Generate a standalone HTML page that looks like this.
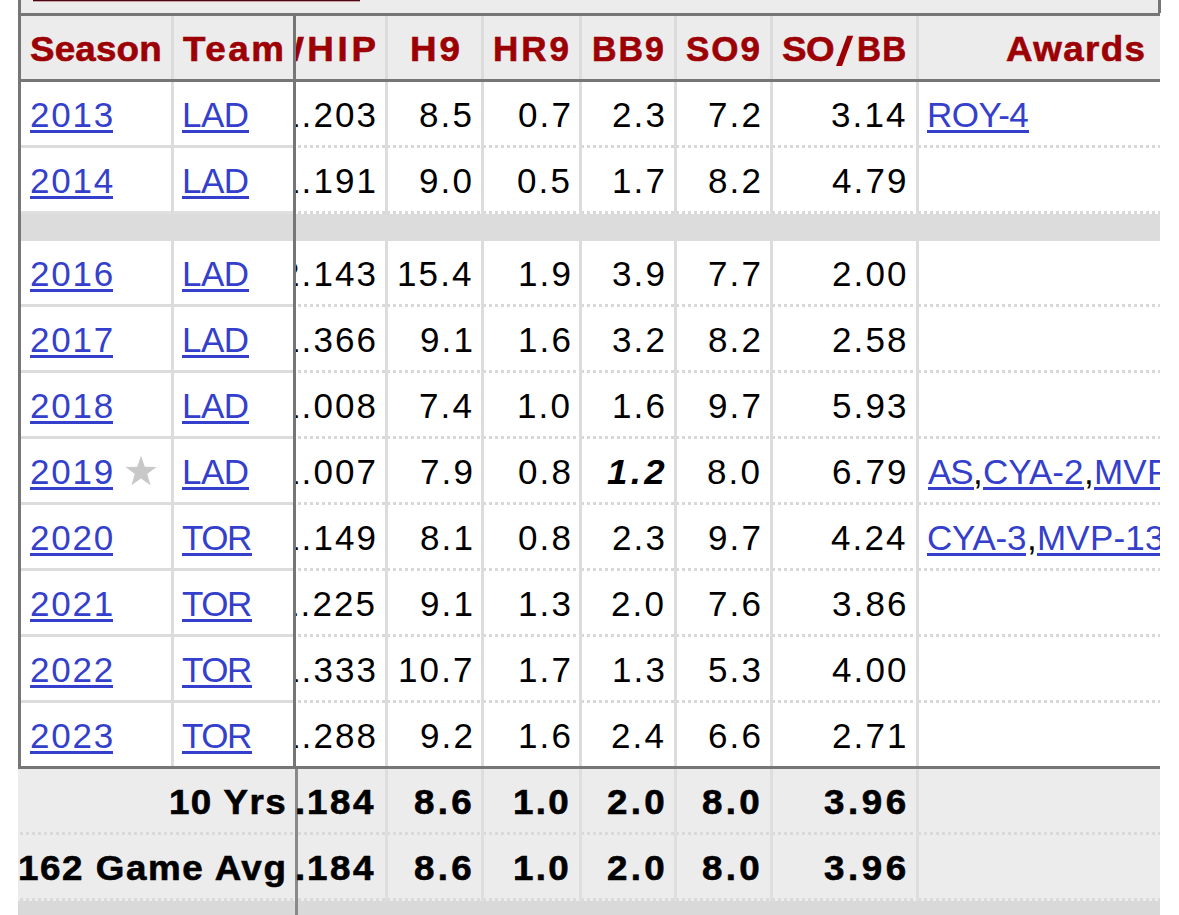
<!DOCTYPE html><html><head><meta charset="utf-8"><style>
html,body{margin:0;padding:0;background:#fff;width:1179px;height:915px;overflow:hidden;position:relative;font-family:'Liberation Sans', sans-serif;}
.a{position:absolute;}
.t{position:absolute;white-space:nowrap;font-size:35px;line-height:35px;}
</style></head><body>
<div class="a" style="left:18px;top:0px;width:1142px;height:16px;background:#ececec;"></div>
<div class="a" style="left:33px;top:0px;width:327px;height:1px;background:#4a0612;"></div>
<div class="a" style="left:33px;top:1px;width:327px;height:1px;background:#c9a0a6;"></div>
<div class="a" style="left:18px;top:13px;width:1142px;height:3px;background:#767676;"></div>
<div class="a" style="left:1158px;top:0px;width:3px;height:13px;background:#767676;"></div>
<div class="a" style="left:18px;top:16px;width:1142px;height:63px;background:#ececec;"></div>
<div class="a" style="left:18px;top:214px;width:1142px;height:27px;background:#dcdcdc;"></div>
<div class="a" style="left:18px;top:769px;width:1142px;height:132px;background:#ececec;"></div>
<div class="a" style="left:18px;top:901px;width:1142px;height:14px;background:#d9d9d9;"></div>
<div class="a" style="left:18px;top:145px;width:278px;height:3px;background:#dcdcdc;"></div>
<div class="a" style="left:296px;top:145px;width:89px;height:3px;background:repeating-linear-gradient(90deg,transparent 0 2px,#d8d8d8 2px 5px,transparent 5px 6px);"></div>
<div class="a" style="left:385px;top:145px;width:96px;height:3px;background:repeating-linear-gradient(90deg,transparent 0 2px,#d8d8d8 2px 5px,transparent 5px 6px);"></div>
<div class="a" style="left:481px;top:145px;width:98px;height:3px;background:repeating-linear-gradient(90deg,transparent 0 2px,#d8d8d8 2px 5px,transparent 5px 6px);"></div>
<div class="a" style="left:579px;top:145px;width:95px;height:3px;background:repeating-linear-gradient(90deg,transparent 0 2px,#d8d8d8 2px 5px,transparent 5px 6px);"></div>
<div class="a" style="left:674px;top:145px;width:96px;height:3px;background:repeating-linear-gradient(90deg,transparent 0 2px,#d8d8d8 2px 5px,transparent 5px 6px);"></div>
<div class="a" style="left:770px;top:145px;width:146px;height:3px;background:repeating-linear-gradient(90deg,transparent 0 2px,#d8d8d8 2px 5px,transparent 5px 6px);"></div>
<div class="a" style="left:916px;top:145px;width:244px;height:3px;background:repeating-linear-gradient(90deg,transparent 0 2px,#d8d8d8 2px 5px,transparent 5px 6px);"></div>
<div class="a" style="left:18px;top:304px;width:278px;height:3px;background:#dcdcdc;"></div>
<div class="a" style="left:296px;top:304px;width:89px;height:3px;background:repeating-linear-gradient(90deg,transparent 0 2px,#d8d8d8 2px 5px,transparent 5px 6px);"></div>
<div class="a" style="left:385px;top:304px;width:96px;height:3px;background:repeating-linear-gradient(90deg,transparent 0 2px,#d8d8d8 2px 5px,transparent 5px 6px);"></div>
<div class="a" style="left:481px;top:304px;width:98px;height:3px;background:repeating-linear-gradient(90deg,transparent 0 2px,#d8d8d8 2px 5px,transparent 5px 6px);"></div>
<div class="a" style="left:579px;top:304px;width:95px;height:3px;background:repeating-linear-gradient(90deg,transparent 0 2px,#d8d8d8 2px 5px,transparent 5px 6px);"></div>
<div class="a" style="left:674px;top:304px;width:96px;height:3px;background:repeating-linear-gradient(90deg,transparent 0 2px,#d8d8d8 2px 5px,transparent 5px 6px);"></div>
<div class="a" style="left:770px;top:304px;width:146px;height:3px;background:repeating-linear-gradient(90deg,transparent 0 2px,#d8d8d8 2px 5px,transparent 5px 6px);"></div>
<div class="a" style="left:916px;top:304px;width:244px;height:3px;background:repeating-linear-gradient(90deg,transparent 0 2px,#d8d8d8 2px 5px,transparent 5px 6px);"></div>
<div class="a" style="left:18px;top:370px;width:278px;height:3px;background:#dcdcdc;"></div>
<div class="a" style="left:296px;top:370px;width:89px;height:3px;background:repeating-linear-gradient(90deg,transparent 0 2px,#d8d8d8 2px 5px,transparent 5px 6px);"></div>
<div class="a" style="left:385px;top:370px;width:96px;height:3px;background:repeating-linear-gradient(90deg,transparent 0 2px,#d8d8d8 2px 5px,transparent 5px 6px);"></div>
<div class="a" style="left:481px;top:370px;width:98px;height:3px;background:repeating-linear-gradient(90deg,transparent 0 2px,#d8d8d8 2px 5px,transparent 5px 6px);"></div>
<div class="a" style="left:579px;top:370px;width:95px;height:3px;background:repeating-linear-gradient(90deg,transparent 0 2px,#d8d8d8 2px 5px,transparent 5px 6px);"></div>
<div class="a" style="left:674px;top:370px;width:96px;height:3px;background:repeating-linear-gradient(90deg,transparent 0 2px,#d8d8d8 2px 5px,transparent 5px 6px);"></div>
<div class="a" style="left:770px;top:370px;width:146px;height:3px;background:repeating-linear-gradient(90deg,transparent 0 2px,#d8d8d8 2px 5px,transparent 5px 6px);"></div>
<div class="a" style="left:916px;top:370px;width:244px;height:3px;background:repeating-linear-gradient(90deg,transparent 0 2px,#d8d8d8 2px 5px,transparent 5px 6px);"></div>
<div class="a" style="left:18px;top:436px;width:278px;height:3px;background:#dcdcdc;"></div>
<div class="a" style="left:296px;top:436px;width:89px;height:3px;background:repeating-linear-gradient(90deg,transparent 0 2px,#d8d8d8 2px 5px,transparent 5px 6px);"></div>
<div class="a" style="left:385px;top:436px;width:96px;height:3px;background:repeating-linear-gradient(90deg,transparent 0 2px,#d8d8d8 2px 5px,transparent 5px 6px);"></div>
<div class="a" style="left:481px;top:436px;width:98px;height:3px;background:repeating-linear-gradient(90deg,transparent 0 2px,#d8d8d8 2px 5px,transparent 5px 6px);"></div>
<div class="a" style="left:579px;top:436px;width:95px;height:3px;background:repeating-linear-gradient(90deg,transparent 0 2px,#d8d8d8 2px 5px,transparent 5px 6px);"></div>
<div class="a" style="left:674px;top:436px;width:96px;height:3px;background:repeating-linear-gradient(90deg,transparent 0 2px,#d8d8d8 2px 5px,transparent 5px 6px);"></div>
<div class="a" style="left:770px;top:436px;width:146px;height:3px;background:repeating-linear-gradient(90deg,transparent 0 2px,#d8d8d8 2px 5px,transparent 5px 6px);"></div>
<div class="a" style="left:916px;top:436px;width:244px;height:3px;background:repeating-linear-gradient(90deg,transparent 0 2px,#d8d8d8 2px 5px,transparent 5px 6px);"></div>
<div class="a" style="left:18px;top:502px;width:278px;height:3px;background:#dcdcdc;"></div>
<div class="a" style="left:296px;top:502px;width:89px;height:3px;background:repeating-linear-gradient(90deg,transparent 0 2px,#d8d8d8 2px 5px,transparent 5px 6px);"></div>
<div class="a" style="left:385px;top:502px;width:96px;height:3px;background:repeating-linear-gradient(90deg,transparent 0 2px,#d8d8d8 2px 5px,transparent 5px 6px);"></div>
<div class="a" style="left:481px;top:502px;width:98px;height:3px;background:repeating-linear-gradient(90deg,transparent 0 2px,#d8d8d8 2px 5px,transparent 5px 6px);"></div>
<div class="a" style="left:579px;top:502px;width:95px;height:3px;background:repeating-linear-gradient(90deg,transparent 0 2px,#d8d8d8 2px 5px,transparent 5px 6px);"></div>
<div class="a" style="left:674px;top:502px;width:96px;height:3px;background:repeating-linear-gradient(90deg,transparent 0 2px,#d8d8d8 2px 5px,transparent 5px 6px);"></div>
<div class="a" style="left:770px;top:502px;width:146px;height:3px;background:repeating-linear-gradient(90deg,transparent 0 2px,#d8d8d8 2px 5px,transparent 5px 6px);"></div>
<div class="a" style="left:916px;top:502px;width:244px;height:3px;background:repeating-linear-gradient(90deg,transparent 0 2px,#d8d8d8 2px 5px,transparent 5px 6px);"></div>
<div class="a" style="left:18px;top:568px;width:278px;height:3px;background:#dcdcdc;"></div>
<div class="a" style="left:296px;top:568px;width:89px;height:3px;background:repeating-linear-gradient(90deg,transparent 0 2px,#d8d8d8 2px 5px,transparent 5px 6px);"></div>
<div class="a" style="left:385px;top:568px;width:96px;height:3px;background:repeating-linear-gradient(90deg,transparent 0 2px,#d8d8d8 2px 5px,transparent 5px 6px);"></div>
<div class="a" style="left:481px;top:568px;width:98px;height:3px;background:repeating-linear-gradient(90deg,transparent 0 2px,#d8d8d8 2px 5px,transparent 5px 6px);"></div>
<div class="a" style="left:579px;top:568px;width:95px;height:3px;background:repeating-linear-gradient(90deg,transparent 0 2px,#d8d8d8 2px 5px,transparent 5px 6px);"></div>
<div class="a" style="left:674px;top:568px;width:96px;height:3px;background:repeating-linear-gradient(90deg,transparent 0 2px,#d8d8d8 2px 5px,transparent 5px 6px);"></div>
<div class="a" style="left:770px;top:568px;width:146px;height:3px;background:repeating-linear-gradient(90deg,transparent 0 2px,#d8d8d8 2px 5px,transparent 5px 6px);"></div>
<div class="a" style="left:916px;top:568px;width:244px;height:3px;background:repeating-linear-gradient(90deg,transparent 0 2px,#d8d8d8 2px 5px,transparent 5px 6px);"></div>
<div class="a" style="left:18px;top:634px;width:278px;height:3px;background:#dcdcdc;"></div>
<div class="a" style="left:296px;top:634px;width:89px;height:3px;background:repeating-linear-gradient(90deg,transparent 0 2px,#d8d8d8 2px 5px,transparent 5px 6px);"></div>
<div class="a" style="left:385px;top:634px;width:96px;height:3px;background:repeating-linear-gradient(90deg,transparent 0 2px,#d8d8d8 2px 5px,transparent 5px 6px);"></div>
<div class="a" style="left:481px;top:634px;width:98px;height:3px;background:repeating-linear-gradient(90deg,transparent 0 2px,#d8d8d8 2px 5px,transparent 5px 6px);"></div>
<div class="a" style="left:579px;top:634px;width:95px;height:3px;background:repeating-linear-gradient(90deg,transparent 0 2px,#d8d8d8 2px 5px,transparent 5px 6px);"></div>
<div class="a" style="left:674px;top:634px;width:96px;height:3px;background:repeating-linear-gradient(90deg,transparent 0 2px,#d8d8d8 2px 5px,transparent 5px 6px);"></div>
<div class="a" style="left:770px;top:634px;width:146px;height:3px;background:repeating-linear-gradient(90deg,transparent 0 2px,#d8d8d8 2px 5px,transparent 5px 6px);"></div>
<div class="a" style="left:916px;top:634px;width:244px;height:3px;background:repeating-linear-gradient(90deg,transparent 0 2px,#d8d8d8 2px 5px,transparent 5px 6px);"></div>
<div class="a" style="left:18px;top:700px;width:278px;height:3px;background:#dcdcdc;"></div>
<div class="a" style="left:296px;top:700px;width:89px;height:3px;background:repeating-linear-gradient(90deg,transparent 0 2px,#d8d8d8 2px 5px,transparent 5px 6px);"></div>
<div class="a" style="left:385px;top:700px;width:96px;height:3px;background:repeating-linear-gradient(90deg,transparent 0 2px,#d8d8d8 2px 5px,transparent 5px 6px);"></div>
<div class="a" style="left:481px;top:700px;width:98px;height:3px;background:repeating-linear-gradient(90deg,transparent 0 2px,#d8d8d8 2px 5px,transparent 5px 6px);"></div>
<div class="a" style="left:579px;top:700px;width:95px;height:3px;background:repeating-linear-gradient(90deg,transparent 0 2px,#d8d8d8 2px 5px,transparent 5px 6px);"></div>
<div class="a" style="left:674px;top:700px;width:96px;height:3px;background:repeating-linear-gradient(90deg,transparent 0 2px,#d8d8d8 2px 5px,transparent 5px 6px);"></div>
<div class="a" style="left:770px;top:700px;width:146px;height:3px;background:repeating-linear-gradient(90deg,transparent 0 2px,#d8d8d8 2px 5px,transparent 5px 6px);"></div>
<div class="a" style="left:916px;top:700px;width:244px;height:3px;background:repeating-linear-gradient(90deg,transparent 0 2px,#d8d8d8 2px 5px,transparent 5px 6px);"></div>
<div class="a" style="left:18px;top:211px;width:278px;height:3px;background:#e0e0e0;"></div>
<div class="a" style="left:296px;top:211px;width:89px;height:3px;background:repeating-linear-gradient(90deg,transparent 0 2px,#d8d8d8 2px 5px,transparent 5px 6px);"></div>
<div class="a" style="left:385px;top:211px;width:96px;height:3px;background:repeating-linear-gradient(90deg,transparent 0 2px,#d8d8d8 2px 5px,transparent 5px 6px);"></div>
<div class="a" style="left:481px;top:211px;width:98px;height:3px;background:repeating-linear-gradient(90deg,transparent 0 2px,#d8d8d8 2px 5px,transparent 5px 6px);"></div>
<div class="a" style="left:579px;top:211px;width:95px;height:3px;background:repeating-linear-gradient(90deg,transparent 0 2px,#d8d8d8 2px 5px,transparent 5px 6px);"></div>
<div class="a" style="left:674px;top:211px;width:96px;height:3px;background:repeating-linear-gradient(90deg,transparent 0 2px,#d8d8d8 2px 5px,transparent 5px 6px);"></div>
<div class="a" style="left:770px;top:211px;width:146px;height:3px;background:repeating-linear-gradient(90deg,transparent 0 2px,#d8d8d8 2px 5px,transparent 5px 6px);"></div>
<div class="a" style="left:916px;top:211px;width:244px;height:3px;background:repeating-linear-gradient(90deg,transparent 0 2px,#d8d8d8 2px 5px,transparent 5px 6px);"></div>
<div class="a" style="left:18px;top:832px;width:278px;height:3px;background:repeating-linear-gradient(90deg,transparent 0 2px,#dadada 2px 5px,transparent 5px 6px);"></div>
<div class="a" style="left:296px;top:832px;width:89px;height:3px;background:repeating-linear-gradient(90deg,transparent 0 2px,#dadada 2px 5px,transparent 5px 6px);"></div>
<div class="a" style="left:385px;top:832px;width:96px;height:3px;background:repeating-linear-gradient(90deg,transparent 0 2px,#dadada 2px 5px,transparent 5px 6px);"></div>
<div class="a" style="left:481px;top:832px;width:98px;height:3px;background:repeating-linear-gradient(90deg,transparent 0 2px,#dadada 2px 5px,transparent 5px 6px);"></div>
<div class="a" style="left:579px;top:832px;width:95px;height:3px;background:repeating-linear-gradient(90deg,transparent 0 2px,#dadada 2px 5px,transparent 5px 6px);"></div>
<div class="a" style="left:674px;top:832px;width:96px;height:3px;background:repeating-linear-gradient(90deg,transparent 0 2px,#dadada 2px 5px,transparent 5px 6px);"></div>
<div class="a" style="left:770px;top:832px;width:146px;height:3px;background:repeating-linear-gradient(90deg,transparent 0 2px,#dadada 2px 5px,transparent 5px 6px);"></div>
<div class="a" style="left:916px;top:832px;width:244px;height:3px;background:repeating-linear-gradient(90deg,transparent 0 2px,#dadada 2px 5px,transparent 5px 6px);"></div>
<div class="a" style="left:18px;top:898px;width:278px;height:3px;background:repeating-linear-gradient(90deg,transparent 0 2px,#dadada 2px 5px,transparent 5px 6px);"></div>
<div class="a" style="left:296px;top:898px;width:89px;height:3px;background:repeating-linear-gradient(90deg,transparent 0 2px,#dadada 2px 5px,transparent 5px 6px);"></div>
<div class="a" style="left:385px;top:898px;width:96px;height:3px;background:repeating-linear-gradient(90deg,transparent 0 2px,#dadada 2px 5px,transparent 5px 6px);"></div>
<div class="a" style="left:481px;top:898px;width:98px;height:3px;background:repeating-linear-gradient(90deg,transparent 0 2px,#dadada 2px 5px,transparent 5px 6px);"></div>
<div class="a" style="left:579px;top:898px;width:95px;height:3px;background:repeating-linear-gradient(90deg,transparent 0 2px,#dadada 2px 5px,transparent 5px 6px);"></div>
<div class="a" style="left:674px;top:898px;width:96px;height:3px;background:repeating-linear-gradient(90deg,transparent 0 2px,#dadada 2px 5px,transparent 5px 6px);"></div>
<div class="a" style="left:770px;top:898px;width:146px;height:3px;background:repeating-linear-gradient(90deg,transparent 0 2px,#dadada 2px 5px,transparent 5px 6px);"></div>
<div class="a" style="left:916px;top:898px;width:244px;height:3px;background:repeating-linear-gradient(90deg,transparent 0 2px,#dadada 2px 5px,transparent 5px 6px);"></div>
<div class="a" style="left:18px;top:0px;width:3px;height:769px;background:#767676;"></div>
<div class="a" style="left:171px;top:16px;width:3px;height:750px;background:#dcdcdc;"></div>
<div class="a" style="left:385px;top:16px;width:3px;height:753px;background:#dcdcdc;"></div>
<div class="a" style="left:385px;top:769px;width:3px;height:132px;background:#dedede;"></div>
<div class="a" style="left:481px;top:16px;width:3px;height:753px;background:#dcdcdc;"></div>
<div class="a" style="left:481px;top:769px;width:3px;height:132px;background:#dedede;"></div>
<div class="a" style="left:579px;top:16px;width:3px;height:753px;background:#dcdcdc;"></div>
<div class="a" style="left:579px;top:769px;width:3px;height:132px;background:#dedede;"></div>
<div class="a" style="left:674px;top:16px;width:3px;height:753px;background:#dcdcdc;"></div>
<div class="a" style="left:674px;top:769px;width:3px;height:132px;background:#dedede;"></div>
<div class="a" style="left:770px;top:16px;width:3px;height:753px;background:#dcdcdc;"></div>
<div class="a" style="left:770px;top:769px;width:3px;height:132px;background:#dedede;"></div>
<div class="a" style="left:916px;top:16px;width:3px;height:753px;background:#dcdcdc;"></div>
<div class="a" style="left:916px;top:769px;width:3px;height:132px;background:#dedede;"></div>
<div class="a" style="left:18px;top:79px;width:1142px;height:3px;background:#767676;"></div>
<div class="a" style="left:18px;top:766px;width:1142px;height:3px;background:#767676;"></div>
<div class="a" style="left:293px;top:16px;width:3px;height:753px;background:#767676;"></div>
<div class="a" style="left:295px;top:769px;width:3px;height:146px;background:#8a8a8a;"></div>
<div class="a" style="left:296px;top:16px;width:864px;height:899px;overflow:hidden;">
<div class="t" style="left:113.89999999999998px;top:15px;color:#9c0004;font-weight:700;font-style:normal;letter-spacing:2.762px;-webkit-text-stroke:0.6px #9c0004;transform:scaleX(1.05);transform-origin:0 0;">H9</div>
<div class="t" style="left:197.0px;top:15px;color:#9c0004;font-weight:700;font-style:normal;letter-spacing:3.0px;-webkit-text-stroke:0.6px #9c0004;">HR9</div>
<div class="t" style="left:296.05999999999995px;top:15px;color:#9c0004;font-weight:700;font-style:normal;letter-spacing:2.067px;-webkit-text-stroke:0.6px #9c0004;transform:scaleX(0.97);transform-origin:0 0;">BB9</div>
<div class="t" style="left:390.0px;top:15px;color:#9c0004;font-weight:700;font-style:normal;letter-spacing:2.0px;-webkit-text-stroke:0.6px #9c0004;">SO9</div>
<div class="t" style="left:485.95000000000005px;top:15px;color:#9c0004;font-weight:700;font-style:normal;letter-spacing:-0.381px;-webkit-text-stroke:0.6px #9c0004;transform:scaleX(1.05);transform-origin:0 0;">SO</div>
<div class="t" style="left:561.1px;top:15px;color:#9c0004;font-weight:700;font-style:normal;letter-spacing:1.421px;-webkit-text-stroke:0.6px #9c0004;transform:scaleX(0.95);transform-origin:0 0;">BB</div>
<div class="t" style="left:709.95px;top:15px;color:#9c0004;font-weight:700;font-style:normal;letter-spacing:1.295px;-webkit-text-stroke:0.6px #9c0004;transform:scaleX(1.05);transform-origin:0 0;">Awards</div>
<div class="t" style="left:-27.05000000000001px;top:15px;color:#9c0004;font-weight:700;font-style:normal;letter-spacing:3.5px;-webkit-text-stroke:0.6px #9c0004;transform:scaleX(1.05);transform-origin:0 0;">WHIP</div>
<div class="t" style="left:-16.0px;top:81px;color:#000;font-weight:400;font-style:normal;letter-spacing:2.1px;">1.203</div>
<div class="t" style="left:123.0px;top:81px;color:#000;font-weight:400;font-style:normal;letter-spacing:2.1px;">8.5</div>
<div class="t" style="left:222.0px;top:81px;color:#000;font-weight:400;font-style:normal;letter-spacing:2.1px;">0.7</div>
<div class="t" style="left:316.0px;top:81px;color:#000;font-weight:400;font-style:normal;letter-spacing:2.1px;">2.3</div>
<div class="t" style="left:412.0px;top:81px;color:#000;font-weight:400;font-style:normal;letter-spacing:2.1px;">7.2</div>
<div class="t" style="left:535.0px;top:81px;color:#000;font-weight:400;font-style:normal;letter-spacing:2.1px;">3.14</div>
<div class="t" style="left:-16.0px;top:147px;color:#000;font-weight:400;font-style:normal;letter-spacing:2.1px;">1.191</div>
<div class="t" style="left:123.0px;top:147px;color:#000;font-weight:400;font-style:normal;letter-spacing:2.1px;">9.0</div>
<div class="t" style="left:221.0px;top:147px;color:#000;font-weight:400;font-style:normal;letter-spacing:2.1px;">0.5</div>
<div class="t" style="left:316.0px;top:147px;color:#000;font-weight:400;font-style:normal;letter-spacing:2.1px;">1.7</div>
<div class="t" style="left:412.0px;top:147px;color:#000;font-weight:400;font-style:normal;letter-spacing:2.1px;">8.2</div>
<div class="t" style="left:536.0px;top:147px;color:#000;font-weight:400;font-style:normal;letter-spacing:2.1px;">4.79</div>
<div class="t" style="left:-16.0px;top:240px;color:#000;font-weight:400;font-style:normal;letter-spacing:2.1px;">2.143</div>
<div class="t" style="left:101.0px;top:240px;color:#000;font-weight:400;font-style:normal;letter-spacing:2.1px;">15.4</div>
<div class="t" style="left:222.0px;top:240px;color:#000;font-weight:400;font-style:normal;letter-spacing:2.1px;">1.9</div>
<div class="t" style="left:316.0px;top:240px;color:#000;font-weight:400;font-style:normal;letter-spacing:2.1px;">3.9</div>
<div class="t" style="left:412.0px;top:240px;color:#000;font-weight:400;font-style:normal;letter-spacing:2.1px;">7.7</div>
<div class="t" style="left:536.0px;top:240px;color:#000;font-weight:400;font-style:normal;letter-spacing:2.1px;">2.00</div>
<div class="t" style="left:-16.0px;top:306px;color:#000;font-weight:400;font-style:normal;letter-spacing:2.1px;">1.366</div>
<div class="t" style="left:124.0px;top:306px;color:#000;font-weight:400;font-style:normal;letter-spacing:2.1px;">9.1</div>
<div class="t" style="left:222.0px;top:306px;color:#000;font-weight:400;font-style:normal;letter-spacing:2.1px;">1.6</div>
<div class="t" style="left:316.0px;top:306px;color:#000;font-weight:400;font-style:normal;letter-spacing:2.1px;">3.2</div>
<div class="t" style="left:412.0px;top:306px;color:#000;font-weight:400;font-style:normal;letter-spacing:2.1px;">8.2</div>
<div class="t" style="left:536.0px;top:306px;color:#000;font-weight:400;font-style:normal;letter-spacing:2.1px;">2.58</div>
<div class="t" style="left:-16.0px;top:372px;color:#000;font-weight:400;font-style:normal;letter-spacing:2.1px;">1.008</div>
<div class="t" style="left:123.0px;top:372px;color:#000;font-weight:400;font-style:normal;letter-spacing:2.1px;">7.4</div>
<div class="t" style="left:221.0px;top:372px;color:#000;font-weight:400;font-style:normal;letter-spacing:2.1px;">1.0</div>
<div class="t" style="left:316.0px;top:372px;color:#000;font-weight:400;font-style:normal;letter-spacing:2.1px;">1.6</div>
<div class="t" style="left:412.0px;top:372px;color:#000;font-weight:400;font-style:normal;letter-spacing:2.1px;">9.7</div>
<div class="t" style="left:536.0px;top:372px;color:#000;font-weight:400;font-style:normal;letter-spacing:2.1px;">5.93</div>
<div class="t" style="left:-16.0px;top:438px;color:#000;font-weight:400;font-style:normal;letter-spacing:2.1px;">1.007</div>
<div class="t" style="left:124.0px;top:438px;color:#000;font-weight:400;font-style:normal;letter-spacing:2.1px;">7.9</div>
<div class="t" style="left:222.0px;top:438px;color:#000;font-weight:400;font-style:normal;letter-spacing:2.1px;">0.8</div>
<div class="t" style="left:310.95000000000005px;top:438px;color:#000;font-weight:700;font-style:italic;letter-spacing:3.167px;transform:scaleX(1.05);transform-origin:0 0;">1.2</div>
<div class="t" style="left:411.0px;top:438px;color:#000;font-weight:400;font-style:normal;letter-spacing:2.1px;">8.0</div>
<div class="t" style="left:536.0px;top:438px;color:#000;font-weight:400;font-style:normal;letter-spacing:2.1px;">6.79</div>
<div class="t" style="left:-16.0px;top:504px;color:#000;font-weight:400;font-style:normal;letter-spacing:2.1px;">1.149</div>
<div class="t" style="left:124.0px;top:504px;color:#000;font-weight:400;font-style:normal;letter-spacing:2.1px;">8.1</div>
<div class="t" style="left:222.0px;top:504px;color:#000;font-weight:400;font-style:normal;letter-spacing:2.1px;">0.8</div>
<div class="t" style="left:316.0px;top:504px;color:#000;font-weight:400;font-style:normal;letter-spacing:2.1px;">2.3</div>
<div class="t" style="left:412.0px;top:504px;color:#000;font-weight:400;font-style:normal;letter-spacing:2.1px;">9.7</div>
<div class="t" style="left:535.0px;top:504px;color:#000;font-weight:400;font-style:normal;letter-spacing:2.1px;">4.24</div>
<div class="t" style="left:-17.0px;top:570px;color:#000;font-weight:400;font-style:normal;letter-spacing:2.1px;">1.225</div>
<div class="t" style="left:124.0px;top:570px;color:#000;font-weight:400;font-style:normal;letter-spacing:2.1px;">9.1</div>
<div class="t" style="left:222.0px;top:570px;color:#000;font-weight:400;font-style:normal;letter-spacing:2.1px;">1.3</div>
<div class="t" style="left:315.0px;top:570px;color:#000;font-weight:400;font-style:normal;letter-spacing:2.1px;">2.0</div>
<div class="t" style="left:412.0px;top:570px;color:#000;font-weight:400;font-style:normal;letter-spacing:2.1px;">7.6</div>
<div class="t" style="left:536.0px;top:570px;color:#000;font-weight:400;font-style:normal;letter-spacing:2.1px;">3.86</div>
<div class="t" style="left:-16.0px;top:636px;color:#000;font-weight:400;font-style:normal;letter-spacing:2.1px;">1.333</div>
<div class="t" style="left:102.0px;top:636px;color:#000;font-weight:400;font-style:normal;letter-spacing:2.1px;">10.7</div>
<div class="t" style="left:222.0px;top:636px;color:#000;font-weight:400;font-style:normal;letter-spacing:2.1px;">1.7</div>
<div class="t" style="left:316.0px;top:636px;color:#000;font-weight:400;font-style:normal;letter-spacing:2.1px;">1.3</div>
<div class="t" style="left:412.0px;top:636px;color:#000;font-weight:400;font-style:normal;letter-spacing:2.1px;">5.3</div>
<div class="t" style="left:536.0px;top:636px;color:#000;font-weight:400;font-style:normal;letter-spacing:2.1px;">4.00</div>
<div class="t" style="left:-16.0px;top:702px;color:#000;font-weight:400;font-style:normal;letter-spacing:2.1px;">1.288</div>
<div class="t" style="left:124.0px;top:702px;color:#000;font-weight:400;font-style:normal;letter-spacing:2.1px;">9.2</div>
<div class="t" style="left:222.0px;top:702px;color:#000;font-weight:400;font-style:normal;letter-spacing:2.1px;">1.6</div>
<div class="t" style="left:315.0px;top:702px;color:#000;font-weight:400;font-style:normal;letter-spacing:2.1px;">2.4</div>
<div class="t" style="left:412.0px;top:702px;color:#000;font-weight:400;font-style:normal;letter-spacing:2.1px;">6.6</div>
<div class="t" style="left:536.0px;top:702px;color:#000;font-weight:400;font-style:normal;letter-spacing:2.1px;">2.71</div>
<div class="t" style="left:631.0px;top:81px;color:#3440cc;font-weight:400;font-style:normal;letter-spacing:-0.5px;">ROY-4</div>
<div class="a" style="left:631px;top:114px;width:102px;height:3px;background:#3440cc;"></div>
<div class="t" style="left:632.0px;top:438px;color:#3440cc;font-weight:400;font-style:normal;letter-spacing:-1.0px;">AS</div>
<div class="a" style="left:632px;top:471px;width:46px;height:3px;background:#3440cc;"></div>
<div class="t" style="left:677.0px;top:438px;color:#000;font-weight:400;font-style:normal;letter-spacing:0px;">,</div>
<div class="t" style="left:687.0px;top:438px;color:#3440cc;font-weight:400;font-style:normal;letter-spacing:0.0px;">CYA-2</div>
<div class="a" style="left:687px;top:471px;width:101px;height:3px;background:#3440cc;"></div>
<div class="t" style="left:788.0px;top:438px;color:#000;font-weight:400;font-style:normal;letter-spacing:0px;">,</div>
<div class="t" style="left:798.0px;top:438px;color:#3440cc;font-weight:400;font-style:normal;letter-spacing:0.19999999999999996px;">MVP-11</div>
<div class="a" style="left:798px;top:471px;width:125px;height:3px;background:#3440cc;"></div>
<div class="t" style="left:631.0px;top:504px;color:#3440cc;font-weight:400;font-style:normal;letter-spacing:-0.25px;">CYA-3</div>
<div class="a" style="left:631px;top:537px;width:99px;height:3px;background:#3440cc;"></div>
<div class="t" style="left:731.0px;top:504px;color:#000;font-weight:400;font-style:normal;letter-spacing:0px;">,</div>
<div class="t" style="left:741.0px;top:504px;color:#3440cc;font-weight:400;font-style:normal;letter-spacing:0.19999999999999996px;">MVP-13</div>
<div class="a" style="left:741px;top:537px;width:127px;height:3px;background:#3440cc;"></div>
<div class="t" style="left:-1.1000000000000227px;top:768px;color:#000;font-weight:700;font-style:normal;letter-spacing:0px;-webkit-text-stroke:0.6px #000;transform:scaleX(1.05);transform-origin:0 0;">.</div>
<div class="t" style="left:10.899999999999977px;top:768px;color:#000;font-weight:700;font-style:normal;letter-spacing:2.452px;-webkit-text-stroke:0.6px #000;transform:scaleX(1.05);transform-origin:0 0;">184</div>
<div class="t" style="left:117.94999999999999px;top:768px;color:#000;font-weight:700;font-style:normal;letter-spacing:3.167px;-webkit-text-stroke:0.6px #000;transform:scaleX(1.05);transform-origin:0 0;">8.6</div>
<div class="t" style="left:216.89999999999998px;top:768px;color:#000;font-weight:700;font-style:normal;letter-spacing:2.238px;-webkit-text-stroke:0.6px #000;transform:scaleX(1.05);transform-origin:0 0;">1.0</div>
<div class="t" style="left:310.95000000000005px;top:768px;color:#000;font-weight:700;font-style:normal;letter-spacing:3.167px;-webkit-text-stroke:0.6px #000;transform:scaleX(1.05);transform-origin:0 0;">2.0</div>
<div class="t" style="left:405.95000000000005px;top:768px;color:#000;font-weight:700;font-style:normal;letter-spacing:3.167px;-webkit-text-stroke:0.6px #000;transform:scaleX(1.05);transform-origin:0 0;">8.0</div>
<div class="t" style="left:527.95px;top:768px;color:#000;font-weight:700;font-style:normal;letter-spacing:3.397px;-webkit-text-stroke:0.6px #000;transform:scaleX(1.05);transform-origin:0 0;">3.96</div>
<div class="t" style="left:-1.1000000000000227px;top:834px;color:#000;font-weight:700;font-style:normal;letter-spacing:0px;-webkit-text-stroke:0.6px #000;transform:scaleX(1.05);transform-origin:0 0;">.</div>
<div class="t" style="left:10.899999999999977px;top:834px;color:#000;font-weight:700;font-style:normal;letter-spacing:2.452px;-webkit-text-stroke:0.6px #000;transform:scaleX(1.05);transform-origin:0 0;">184</div>
<div class="t" style="left:117.94999999999999px;top:834px;color:#000;font-weight:700;font-style:normal;letter-spacing:3.167px;-webkit-text-stroke:0.6px #000;transform:scaleX(1.05);transform-origin:0 0;">8.6</div>
<div class="t" style="left:216.89999999999998px;top:834px;color:#000;font-weight:700;font-style:normal;letter-spacing:2.238px;-webkit-text-stroke:0.6px #000;transform:scaleX(1.05);transform-origin:0 0;">1.0</div>
<div class="t" style="left:310.95000000000005px;top:834px;color:#000;font-weight:700;font-style:normal;letter-spacing:3.167px;-webkit-text-stroke:0.6px #000;transform:scaleX(1.05);transform-origin:0 0;">2.0</div>
<div class="t" style="left:405.95000000000005px;top:834px;color:#000;font-weight:700;font-style:normal;letter-spacing:3.167px;-webkit-text-stroke:0.6px #000;transform:scaleX(1.05);transform-origin:0 0;">8.0</div>
<div class="t" style="left:527.95px;top:834px;color:#000;font-weight:700;font-style:normal;letter-spacing:3.397px;-webkit-text-stroke:0.6px #000;transform:scaleX(1.05);transform-origin:0 0;">3.96</div>
</div>
<div class="t" style="left:29.95px;top:31px;color:#9c0004;font-weight:700;font-style:normal;letter-spacing:0.171px;-webkit-text-stroke:0.6px #9c0004;transform:scaleX(1.05);transform-origin:0 0;">Season</div>
<div class="t" style="left:183.0px;top:31px;color:#9c0004;font-weight:700;font-style:normal;letter-spacing:2.429px;-webkit-text-stroke:0.6px #9c0004;transform:scaleX(1.05);transform-origin:0 0;">Team</div>
<div class="t" style="left:30.0px;top:97px;color:#3440cc;font-weight:400;font-style:normal;letter-spacing:1.8px;">2013</div>
<div class="a" style="left:30px;top:130px;width:83px;height:3px;background:#3440cc;"></div>
<div class="t" style="left:182.0px;top:97px;color:#3440cc;font-weight:400;font-style:normal;letter-spacing:-0.5px;">LAD</div>
<div class="a" style="left:182px;top:130px;width:67px;height:3px;background:#3440cc;"></div>
<div class="t" style="left:30.0px;top:163px;color:#3440cc;font-weight:400;font-style:normal;letter-spacing:1.8px;">2014</div>
<div class="a" style="left:30px;top:196px;width:83px;height:3px;background:#3440cc;"></div>
<div class="t" style="left:182.0px;top:163px;color:#3440cc;font-weight:400;font-style:normal;letter-spacing:-0.5px;">LAD</div>
<div class="a" style="left:182px;top:196px;width:67px;height:3px;background:#3440cc;"></div>
<div class="t" style="left:30.0px;top:256px;color:#3440cc;font-weight:400;font-style:normal;letter-spacing:1.8px;">2016</div>
<div class="a" style="left:30px;top:289px;width:83px;height:3px;background:#3440cc;"></div>
<div class="t" style="left:182.0px;top:256px;color:#3440cc;font-weight:400;font-style:normal;letter-spacing:-0.5px;">LAD</div>
<div class="a" style="left:182px;top:289px;width:67px;height:3px;background:#3440cc;"></div>
<div class="t" style="left:30.0px;top:322px;color:#3440cc;font-weight:400;font-style:normal;letter-spacing:1.8px;">2017</div>
<div class="a" style="left:30px;top:355px;width:83px;height:3px;background:#3440cc;"></div>
<div class="t" style="left:182.0px;top:322px;color:#3440cc;font-weight:400;font-style:normal;letter-spacing:-0.5px;">LAD</div>
<div class="a" style="left:182px;top:355px;width:67px;height:3px;background:#3440cc;"></div>
<div class="t" style="left:30.0px;top:388px;color:#3440cc;font-weight:400;font-style:normal;letter-spacing:1.8px;">2018</div>
<div class="a" style="left:30px;top:421px;width:83px;height:3px;background:#3440cc;"></div>
<div class="t" style="left:182.0px;top:388px;color:#3440cc;font-weight:400;font-style:normal;letter-spacing:-0.5px;">LAD</div>
<div class="a" style="left:182px;top:421px;width:67px;height:3px;background:#3440cc;"></div>
<div class="t" style="left:30.0px;top:454px;color:#3440cc;font-weight:400;font-style:normal;letter-spacing:1.8px;">2019</div>
<div class="a" style="left:30px;top:487px;width:83px;height:3px;background:#3440cc;"></div>
<div class="t" style="left:182.0px;top:454px;color:#3440cc;font-weight:400;font-style:normal;letter-spacing:-0.5px;">LAD</div>
<div class="a" style="left:182px;top:487px;width:67px;height:3px;background:#3440cc;"></div>
<div class="t" style="left:30.0px;top:520px;color:#3440cc;font-weight:400;font-style:normal;letter-spacing:1.8px;">2020</div>
<div class="a" style="left:30px;top:553px;width:83px;height:3px;background:#3440cc;"></div>
<div class="t" style="left:182.0px;top:520px;color:#3440cc;font-weight:400;font-style:normal;letter-spacing:-1.5px;">TOR</div>
<div class="a" style="left:182px;top:553px;width:70px;height:3px;background:#3440cc;"></div>
<div class="t" style="left:30.0px;top:586px;color:#3440cc;font-weight:400;font-style:normal;letter-spacing:1.8px;">2021</div>
<div class="a" style="left:30px;top:619px;width:83px;height:3px;background:#3440cc;"></div>
<div class="t" style="left:182.0px;top:586px;color:#3440cc;font-weight:400;font-style:normal;letter-spacing:-1.5px;">TOR</div>
<div class="a" style="left:182px;top:619px;width:70px;height:3px;background:#3440cc;"></div>
<div class="t" style="left:30.0px;top:652px;color:#3440cc;font-weight:400;font-style:normal;letter-spacing:1.8px;">2022</div>
<div class="a" style="left:30px;top:685px;width:83px;height:3px;background:#3440cc;"></div>
<div class="t" style="left:182.0px;top:652px;color:#3440cc;font-weight:400;font-style:normal;letter-spacing:-1.5px;">TOR</div>
<div class="a" style="left:182px;top:685px;width:70px;height:3px;background:#3440cc;"></div>
<div class="t" style="left:30.0px;top:718px;color:#3440cc;font-weight:400;font-style:normal;letter-spacing:1.8px;">2023</div>
<div class="a" style="left:30px;top:751px;width:83px;height:3px;background:#3440cc;"></div>
<div class="t" style="left:182.0px;top:718px;color:#3440cc;font-weight:400;font-style:normal;letter-spacing:-1.5px;">TOR</div>
<div class="a" style="left:182px;top:751px;width:70px;height:3px;background:#3440cc;"></div>
<div class="t" style="left:168.9px;top:784px;color:#000;font-weight:700;font-style:normal;letter-spacing:1.324px;-webkit-text-stroke:0.6px #000;transform:scaleX(1.05);transform-origin:0 0;">10 Yrs</div>
<div class="t" style="left:17.9px;top:850px;color:#000;font-weight:700;font-style:normal;letter-spacing:1.494px;-webkit-text-stroke:0.6px #000;transform:scaleX(1.05);transform-origin:0 0;">162 Game Avg</div>
<svg class="a" style="left:120px;top:450px;" width="44" height="44" viewBox="0 0 44 44"><polygon fill="#c8c8c8" points="21.00,5.70 24.83,16.73 36.50,16.96 27.20,24.01 30.58,35.19 21.00,28.52 11.42,35.19 14.80,24.01 5.50,16.96 17.17,16.73"/></svg>
<svg class="a" style="left:830px;top:30px;" width="30" height="40" viewBox="830 30 30 40"><polygon fill="#9c0004" points="847.2,35.8 853.2,35.8 842.0,66 836.0,66"/></svg>
</body></html>
